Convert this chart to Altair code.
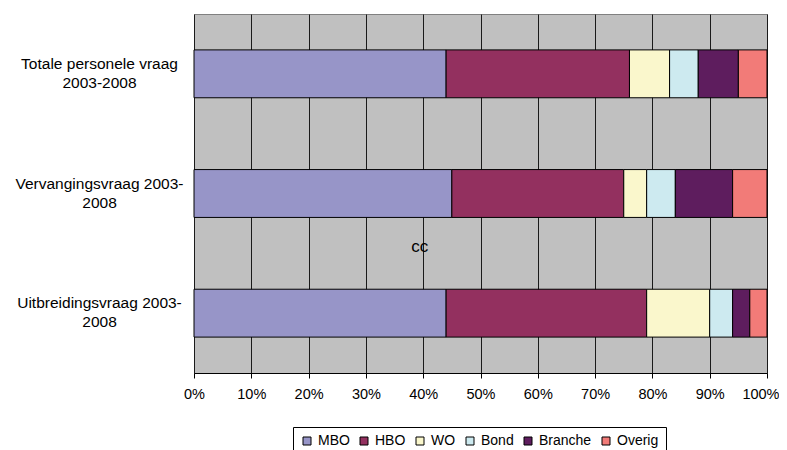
import altair as alt
import pandas as pd

categories = ["Totale personele vraag\n2003-2008", "Vervangingsvraag 2003-\n2008", "Uitbreidingsvraag 2003-\n2008"]
series = ["MBO", "HBO", "WO", "Bond", "Branche", "Overig"]
colors = ["#9795C8", "#93305F", "#FAF7CC", "#CDEAF0", "#5E1D5E", "#F27B78"]
values = {
    "MBO": [44, 45, 44],
    "HBO": [32, 30, 35],
    "WO": [7, 4, 11],
    "Bond": [5, 5, 4],
    "Branche": [7, 10, 3],
    "Overig": [5, 6, 3],
}
annotation_text = ["cc"]
annotation_x = [0.394]
annotation_cat = [categories[1]]

rows = []
for si, s in enumerate(series):
    for ci, c in enumerate(categories):
        rows.append({"cat": c, "series": s, "value": values[s][ci], "order": si})
df = pd.DataFrame(rows)
ann = pd.DataFrame({"text": annotation_text, "x": annotation_x, "cat": annotation_cat})

font = "Liberation Sans"

bars = alt.Chart(df).mark_bar(stroke="#000000", strokeWidth=1).encode(
    x=alt.X("value:Q", stack="normalize",
            scale=alt.Scale(domain=[0, 1], nice=False),
            axis=alt.Axis(values=[i / 10 for i in range(11)], format=".0%", title=None,
                          grid=True, gridColor="#1a1a1a", gridWidth=1,
                          domainColor="#000000", tickColor="#000000", tickSize=5,
                          labelFlush=False,
                          labelAlign={"condition": {"test": "datum.value >= 1", "value": "right"}, "value": "center"},
                          labelOffset={"condition": {"test": "datum.value >= 1", "value": 12}, "value": 0},
                          labelPadding=9, labelFontSize=14.5, labelFont=font, labelColor="#000000")),
    y=alt.Y("cat:N", sort=categories,
            scale=alt.Scale(paddingInner=0.6, paddingOuter=0.3),
            axis=alt.Axis(title=None, ticks=False, domain=False, grid=False,
                          labelExpr="split(datum.label, '\\n')",
                          labelAlign="center", labelBaseline="middle", labelPadding=95,
                          labelOffset=-10,
                          labelFontSize=15.5, labelFont=font, labelColor="#000000",
                          labelLineHeight=19, labelLimit=300)),
    color=alt.Color("series:N", sort=series,
                    scale=alt.Scale(domain=series, range=colors),
                    legend=alt.Legend(title=None, orient="none", legendX=99, legendY=413,
                                      direction="horizontal", columns=6,
                                      symbolType="square", symbolSize=64,
                                      symbolStrokeColor="#000000", symbolStrokeWidth=1,
                                      labelFontSize=14, labelFont=font, labelColor="#000000",
                                      strokeColor="#000000", fillColor="#ffffff",
                                      padding=7, columnPadding=7,
                                      labelOffset=4)),
    order=alt.Order("order:Q"),
)

text = alt.Chart(ann).mark_text(fontSize=17, font=font, color="#000000", dy=53).encode(
    x=alt.X("x:Q"),
    y=alt.Y("cat:N", sort=categories),
    text="text:N",
)

chart = alt.layer(bars, text).properties(
    width=573, height=359,
    autosize=alt.AutoSizeParams(type="none"),
    padding={"left": 186, "top": 6, "right": 12, "bottom": 80},
).configure_view(fill="#C0C0C0", stroke="#808080", strokeWidth=1)

chart.save("out.html", embed_options={"renderer": "svg", "actions": False})
